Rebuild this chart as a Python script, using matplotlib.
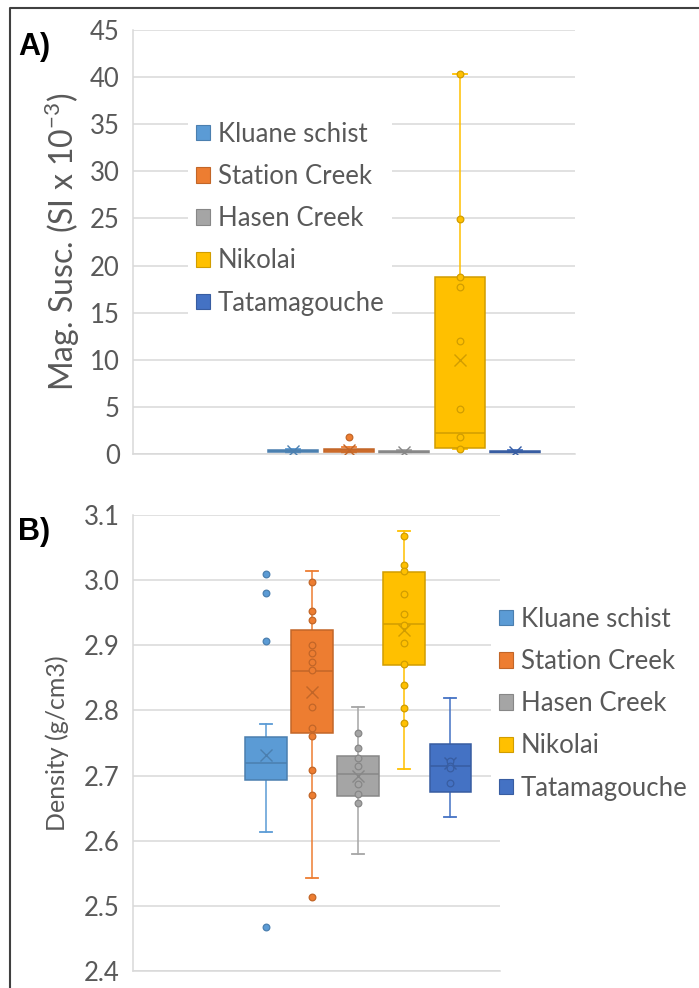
import matplotlib.pyplot as plt
from matplotlib.patches import Patch
from matplotlib.lines import Line2D
import matplotlib.colors as mcolors

plt.rcParams['font.family'] = ['Lato', 'DejaVu Sans']

groups = ['Kluane schist', 'Station Creek', 'Hasen Creek', 'Nikolai', 'Tatamagouche']
colors = ['#5B9BD5', '#ED7D31', '#A5A5A5', '#FFC000', '#4472C4']

# A) magnetic susceptibility (SI x 10^-3), box statistics + shown points
ms_lo = [0.1, 0.15, 0.08, 0.5, 0.08]
ms_q1 = [0.2, 0.25, 0.15, 0.6, 0.12]
ms_med = [0.3, 0.4, 0.2, 2.2, 0.18]
ms_q3 = [0.4, 0.55, 0.3, 18.8, 0.3]
ms_hi = [0.55, 0.7, 0.4, 40.3, 0.4]
ms_mean = [0.3, 0.4, 0.25, 10.0, 0.2]
ms_pts = [[], [1.8], [], [40.3, 24.9, 18.8, 17.7, 12.0, 4.75, 1.8, 0.5], []]

# B) density (g/cm3)
d_lo = [2.613, 2.542, 2.580, 2.710, 2.636]
d_q1 = [2.693, 2.766, 2.669, 2.870, 2.675]
d_med = [2.719, 2.861, 2.702, 2.932, 2.715]
d_q3 = [2.759, 2.923, 2.730, 3.013, 2.748]
d_hi = [2.779, 3.014, 2.805, 3.076, 2.819]
d_mean = [2.732, 2.828, 2.700, 2.923, 2.719]
d_pts = [
    [3.010, 2.981, 2.906, 2.468],
    [2.997, 2.953, 2.939, 2.900, 2.888, 2.874, 2.862, 2.806, 2.773, 2.761, 2.708, 2.670, 2.513],
    [2.766, 2.742, 2.727, 2.715, 2.687, 2.671, 2.658],
    [3.068, 3.023, 3.014, 2.979, 2.948, 2.931, 2.903, 2.871, 2.839, 2.804, 2.781],
    [2.722, 2.715, 2.711, 2.688],
]

grey = '#595959'
grid = '#D9D9D9'
W, H = 699, 988


def dark(c, f=0.82):
    r, g, b = mcolors.to_rgb(c)
    return (r * f, g * f, b * f)


def boxes(ax, lo, q1, med, q3, hi, mean, pts):
    pos = list(range(1, len(groups) + 1))
    stats = []
    for i in range(len(groups)):
        stats.append({'whislo': lo[i], 'q1': q1[i], 'med': med[i], 'q3': q3[i],
                      'whishi': hi[i], 'mean': mean[i], 'fliers': []})
    art = ax.bxp(stats, positions=pos, widths=0.9, patch_artist=True,
                 showmeans=True, showfliers=False, capwidths=0.25, manage_ticks=False)
    for i, c in enumerate(colors):
        dc = dark(c)
        art['boxes'][i].set(facecolor=c, edgecolor=dc, linewidth=1.1, zorder=2)
        art['medians'][i].set(color=dc, linewidth=1.1, zorder=3)
        for k in (2 * i, 2 * i + 1):
            art['whiskers'][k].set(color=c, linewidth=1.1, zorder=1.5)
            art['caps'][k].set(color=c, linewidth=1.3, zorder=1.5)
        art['means'][i].set(marker='x', markersize=9, markeredgecolor=dc,
                            markeredgewidth=1.0, zorder=4)
        ax.plot([pos[i]] * len(pts[i]), pts[i], 'o', ms=4.8, mfc=c, mec=dc,
                mew=0.9, zorder=5)
    ax.set_xlim(-1.885, 6.08)
    ax.set_xticks([])
    ax.yaxis.grid(True, color=grid, linewidth=1.1)
    ax.set_axisbelow(True)
    for s in ('top', 'right'):
        ax.spines[s].set_visible(False)
    for s in ('left', 'bottom'):
        ax.spines[s].set_color(grid)
        ax.spines[s].set_linewidth(1.1)
    ax.tick_params(axis='y', length=0, pad=9.4, labelsize=18.5, labelcolor=grey)


fig = plt.figure(figsize=(W / 100, H / 100), dpi=100)

# panel A
axA = fig.add_axes([133 / W, 1 - 454 / H, 442 / W, 424 / H])
boxes(axA, ms_lo, ms_q1, ms_med, ms_q3, ms_hi, ms_mean, ms_pts)
axA.set_ylim(0, 45)
axA.set_yticks(range(0, 46, 5))

# panel B
axB = fig.add_axes([133 / W, 1 - 971 / H, 367 / W, 456 / H])
boxes(axB, d_lo, d_q1, d_med, d_q3, d_hi, d_mean, d_pts)
axB.set_ylim(2.4, 3.1)
ticksB = [2.4, 2.5, 2.6, 2.7, 2.8, 2.9, 3.0, 3.1]
axB.set_yticks(ticksB)
axB.set_yticklabels([f'{v:.1f}' for v in ticksB])

handles = [Patch(facecolor=c, edgecolor=dark(c), linewidth=0.8) for c in colors]
legkw = dict(loc='upper left', fontsize=18.5, frameon=True, fancybox=False,
             framealpha=1, edgecolor='none', handlelength=0.55, handleheight=0.55,
             handletextpad=0.31, labelspacing=0.67, borderpad=0.3, borderaxespad=0,
             labelcolor=grey)
legA = fig.legend(handles, groups, bbox_to_anchor=(188 / W, 1 - 114 / H), **legkw)
legB = fig.legend(handles, groups, bbox_to_anchor=(491 / W, 1 - 599 / H), **legkw)

# axis titles
fig.text(62 / W, 1 - 242 / H, 'Mag. Susc. (SI x 10$^{\\mathregular{-3}}$)', rotation=90,
         ha='center', va='center', fontsize=23, color=grey)
fig.text(57 / W, 1 - 743 / H, 'Density (g/cm3)', rotation=90,
         ha='center', va='center', fontsize=18, color=grey)

# panel labels
fig.text(18 / W, 1 - 55 / H, 'A)', fontsize=22, fontweight='bold',
         family='Liberation Sans', va='baseline', color='black')
fig.text(18 / W, 1 - 540 / H, 'B)', fontsize=22, fontweight='bold',
         family='Liberation Sans', va='baseline', color='black')

# outer frame (top and left edges)
fig.add_artist(Line2D([10 / W, 10 / W, 1], [0, 1 - 8 / H, 1 - 8 / H],
                      transform=fig.transFigure, color='#404040', linewidth=1.5))

fig.savefig('out.png', dpi=100)
